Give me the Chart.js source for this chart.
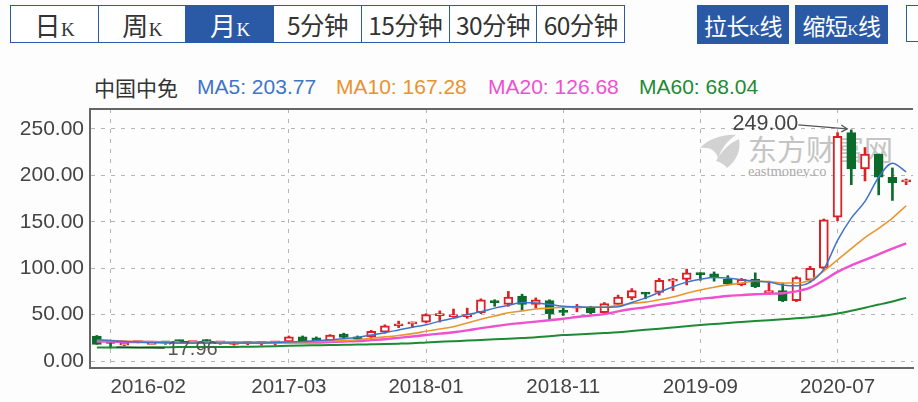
<!DOCTYPE html>
<html><head><meta charset="utf-8">
<style>
html,body{margin:0;padding:0;background:#fdfdfd;width:918px;height:402px;overflow:hidden;font-family:"Liberation Sans",Arial,sans-serif}
.cn{font-family:"Noto Sans CJK SC",sans-serif}
#tabs{position:absolute;left:10px;top:5px;width:615px;height:38px;display:flex;box-sizing:border-box;border:1.5px solid #2a5aa5}
#tabs>div{flex:1;display:flex;align-items:center;justify-content:center;border-right:1.5px solid #2a5aa5;color:#333;font-family:"Noto Sans CJK SC",sans-serif;font-size:24.5px;white-space:nowrap;background:#fff;letter-spacing:-.6px}
#tabs>div:last-child{border-right:0}
#tabs>div.on{background:#2a5aa5;color:#fff}
#tabs .k{font-family:"Liberation Serif",serif;font-size:19px;margin-left:1px}
#tabs .big{font-size:26px}
.btn{position:absolute;top:5px;height:39px;background:#2a5aa5;color:#fff;display:flex;align-items:center;justify-content:center;font-family:"Noto Sans CJK SC",sans-serif;font-size:23px;letter-spacing:-.5px;white-space:nowrap}
.btn small{font-family:"Liberation Serif",serif;font-size:15px}
#extra{position:absolute;left:906px;top:5px;width:20px;height:35px;border:1.5px solid #2a5aa5;background:#fff}
.lg{position:absolute;top:74px;font-size:21px;line-height:26px;white-space:nowrap}
#wm{position:absolute;left:0;top:0;width:918px;height:402px}
#wm1{position:absolute;left:748px;top:128px;font-family:"Noto Sans CJK SC",sans-serif;font-size:29px;color:#c4c4c4;white-space:nowrap;line-height:40px}
#wm2{position:absolute;left:748px;top:164px;font-family:"Liberation Serif",serif;font-size:14.5px;color:#aaa;white-space:nowrap;line-height:14px;width:78px;overflow:hidden}
#c{position:absolute;left:0;top:0}
</style></head><body>
<div id="tabs">
<div><span><span class="big">日</span><span class="k">K</span></span></div>
<div><span><span class="big">周</span><span class="k">K</span></span></div>
<div class="on"><span><span class="big">月</span><span class="k">K</span></span></div>
<div>5分钟</div><div>15分钟</div><div>30分钟</div><div>60分钟</div>
</div>
<div class="btn" style="left:697px;width:92px"><span>拉长<small>K</small>线</span></div>
<div class="btn" style="left:795px;width:93px"><span>缩短<small>K</small>线</span></div>
<div id="extra"></div>
<div class="lg cn" style="left:94px;color:#333">中国中免</div>
<div class="lg" style="left:197px;color:#3f74c9">MA5: 203.77</div>
<div class="lg" style="left:336px;color:#e8922e">MA10: 167.28</div>
<div class="lg" style="left:488px;color:#ee50d0">MA20: 126.68</div>
<div class="lg" style="left:639px;color:#1e8a34">MA60: 68.04</div>
<svg id="wm" viewBox="0 0 918 402"><path d="M700 148 C708 139 724 134 736 135 C727 141 722 148 718 158 C716 150 709 147 700 148 Z M716 161 C722 150 730 143 739 139 C741 150 737 160 727 168 C724 164 720 162 716 161 Z" fill="#d2d2d2"/></svg>
<div id="wm1">东方财富网</div>
<div id="wm2">eastmoney.com</div>
<canvas id="c" width="918" height="402"></canvas>
<script src="https://cdn.jsdelivr.net/npm/chart.js@4/dist/chart.umd.js"></script>
<script>
const months=["2016-01","2016-02","2016-03","2016-04","2016-05","2016-06","2016-07","2016-08","2016-09","2016-10","2016-11","2016-12",
"2017-01","2017-02","2017-03","2017-04","2017-05","2017-06","2017-07","2017-08","2017-09","2017-10","2017-11","2017-12",
"2018-01","2018-02","2018-03","2018-04","2018-05","2018-06","2018-07","2018-08","2018-09","2018-10","2018-11","2018-12",
"2019-01","2019-02","2019-03","2019-04","2019-05","2019-06","2019-07","2019-08","2019-09","2019-10","2019-11","2019-12",
"2020-01","2020-02","2020-03","2020-04","2020-05","2020-06","2020-07","2020-08","2020-09","2020-10","2020-11","2020-12"];
const xTickLabels=["2016-02","2017-03","2018-01","2018-11","2019-09","2020-07"];
const yTicks=[0,50,100,150,200,250];
const open=[27,21,17,20,20,20,22,20,22,19.5,20,19,19,19.5,20.5,26,25,22,29,26,
26,31,38,40,42,49,50,50,52,65,61,70,61,65,53,57,58,52,61,68,
73,74,86,88,94,94,88,82,88,73,76,65,87,100,155,246,207,223,198,193];
const high=[27.5,22,20,21,20.5,20.5,22.5,21,23,20.5,21,20,20.5,21,27,27,26,28.5,30,27,
33,39,43,42,51,54,56,57,67,66,75,72,68,66,58,61,59,63,71,78,
74,89,89,99,95,96,92,89,95,86,84,91,102,153,246,249,230,223,208,196];
const low=[18,14,16.5,19.5,19.5,18,20,19,20,18,17,17.5,17,17,20,22,21,21,25,23,
25,30,36,36,41,42,47,46,51,59,59,55,57,45,49,53,51,51,60,66,
67,71,76,82,87,86,82,81,79,72,64,64,85,99,151,190,194,179,173,190];
const close=[18,19,19.5,20.5,20,19.5,21,20.5,21,20,20,19.5,19.5,20,26,22,21.5,28,25.5,24,
32,38,40,42,50,50,50,50,66,63,69,61,66,51,52.5,58,52,62,69,76,
72,87,88,95,93,90,83,88,80,76,65,90,100,152,242,207,223,198,192,194];
const ma5=[23,22,21,20.5,20,20,19.5,19.5,19.5,19.5,19.5,19.5,19.5,20,20.5,21,22,23,24,25.5,
28,30.5,33.5,36.5,39,43,46,50,53,57,60,63,62.5,61,59,58.5,58,58,58.5,63,
68,74,80,85,88,90,89.5,87.5,86,85,82,81,85,99,130,154,172,198,213,203.77];
const ma10=[22,22,21.5,21,21,20.5,20.5,20,20,20,20,20,20,20,20,20.5,21,21.5,22,23,
24.5,26,27.5,29.5,32,34.5,37,41,45,48.5,52,54,56,57,58,58,58,58,60,62,
63.5,66,69,73,76.5,79.5,82,84,86,85.5,84,84,87,97,109,121,133,143,154,167.28];
const ma20=[21,21,20.5,20.5,20.5,20,20,20,20,20,20,20,20,20,20,20,20,20.5,21,21.5,
22.5,23.5,25,26.5,28,29.5,31,33,35.5,37.5,39.5,41,42.5,44,45.5,47.5,49,50.5,53.5,56,
58,60.5,62.5,65,67,68.5,70,71,72,72.5,73,75,79,87,96,103,109,115,121,126.68];
const ma60=[14.5,14.5,14.6,14.7,14.8,14.9,15,15,15.1,15.2,15.2,15.4,15.6,16,16.5,16.8,17,17.2,17.5,17.7,
18,18.3,18.7,19.2,20,20.7,21.4,22,22.7,23.4,24.1,24.8,25.6,26.7,28,28.6,29.3,30.1,31,32.3,
33.6,34.9,36.2,37.5,38.8,39.9,41,42,43,44,45,46,47.2,48.8,51.2,54.2,57.5,60.8,64.2,68.04];
const RED="#dd1f26",GREEN="#0b6b2a";
const isUp=i=>close[i]>=open[i];
const maxNote="249.00",minNote="17.96";
const frame={id:"frame",
 beforeDraw(ch){const it=ch.scales.x.getLabelItems();if(it[0])it[0].options.textAlign="left";},
 afterDraw(ch){const c=ch.ctx,a=ch.chartArea,x=ch.scales.x,y=ch.scales.y;
  c.save();c.strokeStyle="#666";c.lineWidth=2;c.beginPath();c.moveTo(a.left-1,a.top);c.lineTo(a.right,a.top);c.stroke();
  c.fillStyle="#444";c.font='21.5px "Liberation Sans"';c.textBaseline="middle";
  const px=x.getPixelForValue(55),py=y.getPixelForValue(249);
  c.textAlign="right";c.fillText(maxNote,px-53,py-6);
  c.strokeStyle="#555";c.lineWidth=1.2;c.beginPath();c.moveTo(px-53,py-5);c.lineTo(px-4,py-1);c.stroke();
  c.beginPath();c.moveTo(px-10,py-5);c.lineTo(px-4,py-1);c.lineTo(px-10,py+2);c.stroke();
  const qx=x.getPixelForValue(1),qy=y.getPixelForValue(14);
  c.fillStyle="#555";c.font='20px "Liberation Sans"';c.textAlign="left";c.fillText(minNote,qx+57,qy+1);
  c.strokeStyle="#333";c.beginPath();c.moveTo(qx+54,qy);c.lineTo(qx+6,qy-1);c.stroke();
  c.restore();}};
const lineDs=(label,data,color,w,order)=>({type:"line",label,data,borderColor:color,borderWidth:w,pointRadius:0,tension:.4,cubicInterpolationMode:"monotone",order,fill:false});
new Chart(document.getElementById("c"),{
 type:"bar",
 data:{labels:months,datasets:[
  lineDs("MA5",ma5,"#3f74c9",1.5,1),
  lineDs("MA10",ma10,"#e8962e",1.6,2),
  lineDs("MA20",ma20,"#ee50d0",2.4,3),
  lineDs("MA60",ma60,"#1e8a34",2,4),
  {label:"body",data:months.map((_,i)=>[open[i],close[i]]),grouped:false,barThickness:9,minBarLength:2,borderWidth:2,borderSkipped:false,
   backgroundColor:c=>isUp(c.dataIndex)?"#fff":GREEN,borderColor:c=>isUp(c.dataIndex)?RED:GREEN,order:5},
  {label:"wick",data:months.map((_,i)=>[low[i],high[i]]),grouped:false,barThickness:2,borderWidth:0,
   backgroundColor:c=>isUp(c.dataIndex)?RED:GREEN,order:6}
 ]},
 options:{responsive:false,animation:false,devicePixelRatio:1,
  layout:{padding:{top:109,right:5,left:0,bottom:0}},
  plugins:{legend:{display:false},tooltip:{enabled:false}},
  scales:{
   x:{offset:true,
    afterFit:s=>{s.height=34},
    afterBuildTicks:s=>{s.ticks=xTickLabels.map(l=>({value:months.indexOf(l)}))},
    grid:{color:"#b5b5b5",offset:false,drawTicks:false},
    border:{color:"#666",width:2,dash:[4,6]},
    ticks:{autoSkip:false,maxRotation:0,padding:7,color:"#444",font:{family:"Liberation Sans",size:20.5}}},
   y:{min:-7.5,max:271.5,
    afterFit:s=>{s.width=90},
    afterBuildTicks:s=>{s.ticks=yTicks.map(v=>({value:v}))},
    grid:{color:"#b5b5b5",drawTicks:false},
    border:{color:"#666",width:2,dash:[4,6]},
    ticks:{padding:6,color:"#444",font:{family:"Liberation Sans",size:21},callback:v=>Number(v).toFixed(2)}}
  }},
 plugins:[frame]});
</script>
</body></html>
